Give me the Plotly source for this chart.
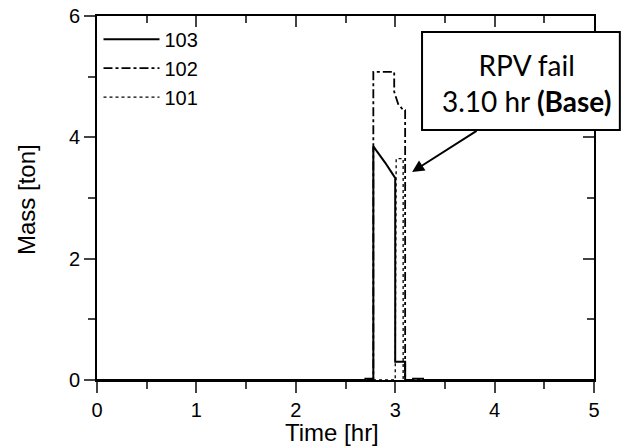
import plotly.graph_objects as go

# Series data (time in hr, mass in ton)
t103 = [0, 2.70, 2.70, 2.78, 2.78, 2.84, 2.90, 2.96, 3.00, 3.00, 3.10, 3.10, 3.18, 3.18, 3.28, 3.28, 5.0]
m103 = [0, 0, 0.02, 0.02, 3.85, 3.72, 3.58, 3.43, 3.33, 0.30, 0.30, 0, 0, 0.02, 0.02, 0, 0]

t102 = [0, 2.78, 2.78, 2.99, 2.99, 3.03, 3.08, 3.10, 3.10, 5.0]
m102 = [0, 0, 5.08, 5.08, 4.75, 4.55, 4.45, 4.45, 0, 0]

t101 = [0, 3.00, 3.01, 3.08, 3.08, 5.0]
m101 = [0, 0, 3.65, 3.65, 0, 0]

series_names = ["103", "102", "101"]
x_ticks = [0, 1, 2, 3, 4, 5]
y_ticks = [0, 2, 4, 6]
x_minor = [0.5, 1.5, 2.5, 3.5, 4.5]
y_minor = [1, 3, 5]

font_axis = "Liberation Sans, Arial, sans-serif"

fig = go.Figure()
fig.add_trace(go.Scatter(x=t103, y=m103, mode="lines", name=series_names[0],
                         line=dict(color="black", width=2, dash="solid")))
fig.add_trace(go.Scatter(x=t102, y=m102, mode="lines", name=series_names[1],
                         line=dict(color="black", width=1.8, dash="dashdot")))
fig.add_trace(go.Scatter(x=t101, y=m101, mode="lines", name=series_names[2],
                         line=dict(color="black", width=1.3, dash="dot")))
# invisible trace for mirrored inside ticks
fig.add_trace(go.Scatter(x=[0], y=[0], xaxis="x2", yaxis="y2", mode="markers",
                         marker=dict(opacity=0), showlegend=False, hoverinfo="skip"))

axis_common = dict(showgrid=False, zeroline=False, showline=True, linecolor="black",
                   linewidth=2, automargin=False)

fig.update_layout(
    width=622, height=447,
    paper_bgcolor="white", plot_bgcolor="white",
    margin=dict(l=97, r=28, t=16, b=67, autoexpand=False),
    font=dict(family=font_axis, size=20, color="black"),
    xaxis=dict(range=[0, 5], tickvals=x_ticks, ticks="outside", ticklen=11, tickwidth=2,
               minor=dict(tickvals=x_minor, ticks="outside", ticklen=7, tickwidth=2),
               tickfont=dict(size=20),
               **axis_common),
    yaxis=dict(range=[0, 6], tickvals=y_ticks, ticks="outside", ticklen=11, tickwidth=2,
               minor=dict(tickvals=y_minor, ticks="outside", ticklen=7, tickwidth=2),
               tickfont=dict(size=20),
               **axis_common),
    xaxis2=dict(range=[0, 5], overlaying="x", side="top", tickvals=x_ticks, ticks="inside",
                ticklen=11, tickwidth=2, showticklabels=False,
                minor=dict(tickvals=x_minor, ticks="inside", ticklen=7, tickwidth=2),
                **axis_common),
    yaxis2=dict(range=[0, 6], overlaying="y", side="right", tickvals=y_ticks, ticks="inside",
                ticklen=11, tickwidth=2, showticklabels=False,
                minor=dict(tickvals=y_minor, ticks="inside", ticklen=7, tickwidth=2),
                **axis_common),
    legend=dict(x=0.003, y=0.99, xanchor="left", yanchor="top", bgcolor="rgba(0,0,0,0)",
                font=dict(size=20), itemwidth=56, tracegroupgap=0),
    showlegend=True,
)

# Axis titles
fig.add_annotation(xref="paper", yref="paper", x=0.473, y=-0.145, text="Time [hr]",
                   showarrow=False, xanchor="center", yanchor="middle", font=dict(size=24))
fig.add_annotation(xref="paper", yref="paper", x=-0.143, y=0.497, text="Mass [ton]",
                   showarrow=False, xanchor="center", yanchor="middle", textangle=-90,
                   font=dict(size=24))

# Annotation box
fig.add_shape(type="rect", xref="paper", yref="paper", x0=0.654, x1=1.052, y0=0.687, y1=0.956,
              line=dict(color="black", width=2), fillcolor="white", layer="above")
fig.add_annotation(xref="paper", yref="paper", x=0.865, y=0.817, showarrow=False,
                   text="RPV fail<br>3.10 hr <b>(Base)</b>",
                   font=dict(family="Lato, Open Sans, sans-serif", size=28, color="black"),
                   align="center", xanchor="center", yanchor="middle")
fig.add_annotation(x=3.17, y=3.43, xref="x", yref="y", ax=66, ay=-42, text="",
                   showarrow=True, arrowhead=2, arrowsize=1.2, arrowwidth=2, arrowcolor="black")

fig.write_html("out.html", config={"displayModeBar": False},
               post_script="document.body.style.margin='0';")
